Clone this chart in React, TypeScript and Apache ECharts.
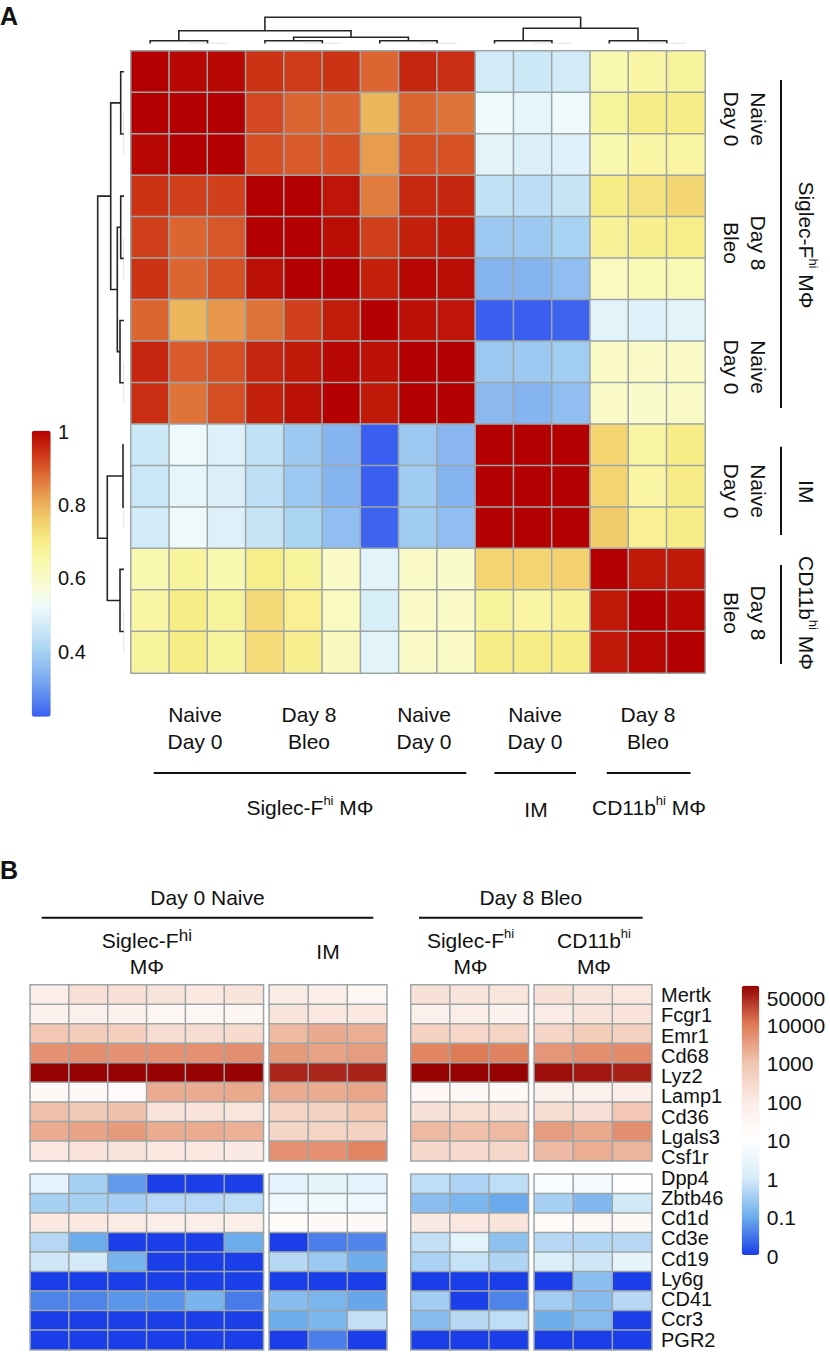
import React, { useEffect, useRef } from 'react';
import * as echarts from 'echarts';

const FONT = '"Liberation Sans", Arial, Helvetica, sans-serif';

// ---------------- Panel A data (Pearson correlation, 15 samples) ----------------
const samplesA = ['SF0-1', 'SF0-2', 'SF0-3', 'SF8-1', 'SF8-2', 'SF8-3', 'SF0-4', 'SF0-5', 'SF0-6', 'IM-1', 'IM-2', 'IM-3', 'CD8-1', 'CD8-2', 'CD8-3'];
const corrR01 = [1.0, 0.99, 0.99, 0.94, 0.93, 0.94, 0.885, 0.955, 0.945, 0.47, 0.46, 0.47, 0.635, 0.655, 0.665];
const corrR02 = [1.0, 1.0, 1.0, 0.915, 0.885, 0.885, 0.79, 0.885, 0.87, 0.52, 0.505, 0.52, 0.665, 0.7, 0.7];
const corrR03 = [0.99, 1.0, 1.0, 0.91, 0.895, 0.905, 0.825, 0.91, 0.905, 0.5, 0.485, 0.49, 0.635, 0.655, 0.66];
const corrR04 = [0.94, 0.925, 0.925, 1.0, 1.0, 0.975, 0.86, 0.95, 0.955, 0.44, 0.43, 0.45, 0.7, 0.72, 0.74];
const corrR05 = [0.925, 0.885, 0.9, 1.0, 1.0, 0.985, 0.925, 0.96, 0.97, 0.38, 0.38, 0.4, 0.675, 0.69, 0.695];
const corrR06 = [0.94, 0.885, 0.91, 0.98, 1.0, 1.0, 0.96, 0.99, 0.985, 0.34, 0.34, 0.36, 0.61, 0.63, 0.63];
const corrR07 = [0.885, 0.79, 0.83, 0.87, 0.925, 0.965, 1.0, 0.98, 0.975, 0.22, 0.22, 0.225, 0.5, 0.49, 0.5];
const corrR08 = [0.955, 0.895, 0.91, 0.955, 0.97, 0.99, 0.98, 1.0, 1.0, 0.38, 0.38, 0.39, 0.6, 0.595, 0.6];
const corrR09 = [0.945, 0.87, 0.91, 0.96, 0.98, 1.0, 0.97, 1.0, 1.0, 0.35, 0.34, 0.36, 0.595, 0.59, 0.6];
const corrR10 = [0.46, 0.52, 0.49, 0.44, 0.38, 0.34, 0.22, 0.38, 0.345, 1.0, 1.0, 1.0, 0.745, 0.66, 0.7];
const corrR11 = [0.455, 0.505, 0.485, 0.435, 0.38, 0.34, 0.22, 0.385, 0.34, 1.0, 1.0, 1.0, 0.745, 0.655, 0.7];
const corrR12 = [0.47, 0.52, 0.49, 0.45, 0.405, 0.36, 0.225, 0.385, 0.36, 1.0, 1.0, 1.0, 0.76, 0.68, 0.7];
const corrR13 = [0.635, 0.665, 0.635, 0.695, 0.665, 0.6, 0.5, 0.595, 0.59, 0.745, 0.745, 0.75, 1.0, 0.97, 0.97];
const corrR14 = [0.655, 0.7, 0.665, 0.735, 0.68, 0.61, 0.48, 0.595, 0.595, 0.665, 0.655, 0.675, 0.97, 1.0, 0.99];
const corrR15 = [0.665, 0.7, 0.665, 0.73, 0.685, 0.615, 0.5, 0.595, 0.6, 0.7, 0.7, 0.7, 0.97, 0.99, 1.0];
const corrMatrix = [corrR01, corrR02, corrR03, corrR04, corrR05, corrR06, corrR07, corrR08, corrR09, corrR10, corrR11, corrR12, corrR13, corrR14, corrR15];
const corrMin = 0.22;
const corrMax = 1.0;
const corrTicks = [1, 0.8, 0.6, 0.4];
const corrColors = ['#3A5FF0', '#5F8EF0', '#86B4F0', '#A8D2F2', '#CDE8F7', '#EEF9FC', '#FAFBD2', '#F9F8AE', '#F7EC86', '#F2CC6A', '#E8A050', '#DE6A35', '#CC3214', '#B40000'];

// dendrogram merge heights (leaf index, merge height)
type DNode = number | { l: DNode; r: DNode; h: number };
const mg = (l: DNode, r: DNode, h: number): DNode => ({ l, r, h });
const colTree = mg(
  mg(mg(0, mg(1, 2, 0.3), 2.8), mg(mg(3, mg(4, 5, 0.3), 2.8), mg(6, mg(7, 8, 0.3), 2.8), 6.2), 12.8),
  mg(mg(9, mg(10, 11, 0.3), 2.8), mg(12, mg(13, 14, 0.3), 2.8), 15.2),
  26.2
);
const rowTree = mg(
  mg(mg(0, mg(1, 2, 0.3), 3.3), mg(mg(3, mg(4, 5, 0.3), 3.3), mg(6, mg(7, 8, 0.3), 4), 6.7), 13.3),
  mg(mg(9, mg(10, 11, 0.3), 1), mg(12, mg(13, 14, 0.3), 4), 16.7),
  26.3
);

// ---------------- Panel B data (expression) ----------------
const genesTop = ['Mertk', 'Fcgr1', 'Emr1', 'Cd68', 'Lyz2', 'Lamp1', 'Cd36', 'Lgals3', 'Csf1r'];
const genesBottom = ['Dpp4', 'Zbtb46', 'Cd1d', 'Cd3e', 'Cd19', 'Ly6g', 'CD41', 'Ccr3', 'PGR2'];
const exprTicks = [50000, 10000, 1000, 100, 10, 1, 0.1, 0];
const exprColors = ['#1A3FE8', '#6EAEEC', '#D8ECF9', '#FFFFFF', '#FBEBE5', '#F1C4AF', '#DE7A56', '#950000'];

const d0SiglecTop = [
  [80, 190, 190, 150, 120, 150],
  [50, 55, 50, 28, 28, 32],
  [850, 620, 520, 230, 230, 260],
  [5000, 5200, 4800, 5000, 5000, 5200],
  [95000, 95000, 95000, 95000, 95000, 95000],
  [20, 20, 15, 2200, 2200, 2400],
  [1170, 740, 1070, 160, 160, 140],
  [2200, 2800, 3700, 2200, 2200, 1850],
  [130, 170, 150, 120, 120, 105],
];
const d0IMTop = [
  [100, 80, 28],
  [150, 130, 120],
  [1400, 2250, 2000],
  [3700, 2900, 3500],
  [50000, 48000, 52000],
  [2200, 2100, 2600],
  [390, 440, 940],
  [360, 390, 440],
  [5000, 5000, 7300],
];
const d8SiglecTop = [
  [180, 150, 140],
  [56, 80, 50],
  [440, 350, 390],
  [7100, 9400, 7600],
  [95000, 95000, 95000],
  [28, 25, 22],
  [180, 215, 180],
  [1400, 1130, 1400],
  [320, 275, 320],
];
const d8CD11bTop = [
  [180, 150, 130],
  [100, 150, 160],
  [360, 660, 470],
  [4200, 5400, 6000],
  [75000, 65000, 55000],
  [50, 56, 70],
  [230, 200, 830],
  [3500, 2400, 5400],
  [1380, 2000, 1650],
];
const d0SiglecBottom = [
  [2, 0.34, 0.066, 0, 0, 0],
  [0.35, 0.35, 0.34, 0.5, 0.5, 0.57],
  [120, 120, 100, 80, 75, 75],
  [0.48, 0.095, 0, 0, 0, 0.095],
  [0.8, 0.93, 0.125, 0, 0, 0],
  [0, 0, 0, 0, 0, 0],
  [0.042, 0.042, 0.061, 0.058, 0.125, 0.035],
  [0, 0, 0, 0, 0, 0],
  [0, 0, 0, 0, 0, 0],
];
const d0IMBottom = [
  [2, 2.3, 2],
  [4.1, 4.6, 4.1],
  [18, 20, 22],
  [0, 0.037, 0.044],
  [0.48, 0.28, 0.1],
  [0, 0, 0],
  [0.17, 0.13, 0.085],
  [0.095, 0.135, 0.65],
  [0, 0.037, 0],
];
const d8SiglecBottom = [
  [0.57, 0.4, 0.57],
  [0.18, 0.135, 0.09],
  [110, 130, 150],
  [0.65, 2, 0.2],
  [0.38, 0.68, 0.42],
  [0, 0, 0],
  [0.32, 0, 0.042],
  [0.17, 0.48, 0.57],
  [0, 0, 0],
];
const d8CD11bBottom = [
  [6.6, 5.2, 12],
  [0.35, 0.15, 0.88],
  [18, 24, 20],
  [0.48, 0.44, 0.48],
  [1.3, 0.84, 2.3],
  [0, 0.19, 0],
  [0.31, 0.17, 0.48],
  [0.1, 0.17, 0],
  [0, 0, 0],
];

const toLog = (v: number) => Math.log10(Math.max(v, 0.01));
const EXPR_MIN = -2;
const EXPR_MAX = 5;

// ---------------- layout ----------------
const A_GRID = { left: 131, top: 51, width: 574, height: 622 };
const A_LEG = { left: 31.7, top: 430.7, w: 19, h: 286 };
const B_LEG = { left: 741.7, top: 985.7, w: 17.6, h: 269.3 };
const B_TOP = { top: 985, height: 175.7 };
const B_BOT = { top: 1174.3, height: 175.5 };
const B_BLOCKS = [
  { left: 30.3, width: 233, top: d0SiglecTop, bottom: d0SiglecBottom },
  { left: 269.3, width: 117.4, top: d0IMTop, bottom: d0IMBottom },
  { left: 411, width: 117.3, top: d8SiglecTop, bottom: d8SiglecBottom },
  { left: 534.3, width: 117.4, top: d8CD11bTop, bottom: d8CD11bBottom },
];
const BORDER = '#9DA6A7';
const INK = '#111111';

function txt(x: number, y: number, text: string, o: any = {}) {
  return {
    type: 'text',
    x,
    y,
    rotation: o.rot || 0,
    silent: true,
    style: {
      text,
      fontSize: o.size || 21,
      fontFamily: FONT,
      fontWeight: o.weight || 'normal',
      fill: INK,
      align: o.align || 'center',
      verticalAlign: 'middle',
      textAlign: o.align || 'center',
      textVerticalAlign: 'middle',
      lineHeight: o.lh || 27,
      rich: o.rich,
    },
  };
}
function supRich(supSize: number, mainSize = 21) {
  return {
    m: { fontSize: mainSize, fontFamily: FONT, fill: INK, lineHeight: 26, verticalAlign: 'middle' },
    s: { fontSize: supSize, fontFamily: FONT, fill: INK, lineHeight: supSize, verticalAlign: 'top' },
  };
}
function line(x1: number, y1: number, x2: number, y2: number, w = 2) {
  return { type: 'line', silent: true, shape: { x1, y1, x2, y2 }, style: { stroke: INK, lineWidth: w } };
}

export default function App() {
  const ref = useRef<HTMLDivElement>(null);
  useEffect(() => {
    document.body.style.margin = '0';
    const chart = echarts.init(ref.current!, null, { renderer: 'svg' });

    const grids: any[] = [{ ...A_GRID }];
    const xAxes: any[] = [{ type: 'category', gridIndex: 0, data: samplesA, show: false }];
    const yAxes: any[] = [{ type: 'category', gridIndex: 0, data: samplesA, inverse: true, show: false }];
    const series: any[] = [
      {
        type: 'heatmap',
        xAxisIndex: 0,
        yAxisIndex: 0,
        data: corrMatrix.flatMap((row, r) => row.map((v, c) => [c, r, v])),
        itemStyle: { borderColor: BORDER, borderWidth: 1.5 },
        emphasis: { disabled: true },
      },
    ];
    const bSeriesIdx: number[] = [];
    [B_TOP, B_BOT].forEach((half, hi) => {
      B_BLOCKS.forEach((blk) => {
        const mat = hi === 0 ? blk.top : blk.bottom;
        const genes = hi === 0 ? genesTop : genesBottom;
        const gi = grids.length;
        grids.push({ left: blk.left, width: blk.width, top: half.top, height: half.height });
        xAxes.push({ type: 'category', gridIndex: gi, data: mat[0].map((_, i) => 'S' + (i + 1)), show: false });
        yAxes.push({ type: 'category', gridIndex: gi, data: genes, inverse: true, show: false });
        bSeriesIdx.push(series.length);
        series.push({
          type: 'heatmap',
          xAxisIndex: gi,
          yAxisIndex: gi,
          data: mat.flatMap((row, r) => row.map((v, c) => [c, r, toLog(v)])),
          itemStyle: { borderColor: BORDER, borderWidth: 1.5 },
          emphasis: { disabled: true },
        });
      });
    });
    // gene label axis
    const lg = grids.length;
    grids.push({ left: 651, width: 1, top: 985, height: 364.8 });
    xAxes.push({ type: 'value', gridIndex: lg, show: false });
    yAxes.push({
      type: 'category',
      gridIndex: lg,
      data: [...genesTop, ...genesBottom],
      inverse: true,
      position: 'right',
      axisLine: { show: false },
      axisTick: { show: false },
      splitLine: { show: false },
      axisLabel: { interval: 0, fontSize: 20, color: INK, fontFamily: FONT, margin: 9 },
    });

    chart.setOption({
      animation: false,
      grid: grids,
      xAxis: xAxes,
      yAxis: yAxes,
      visualMap: [
        {
          type: 'continuous',
          seriesIndex: 0,
          min: corrMin,
          max: corrMax,
          inRange: { color: corrColors },
          calculable: false,
          hoverLink: false,
          left: A_LEG.left,
          top: A_LEG.top,
          itemWidth: A_LEG.w,
          itemHeight: A_LEG.h,
          padding: 0,
          text: null,
        },
        {
          type: 'continuous',
          seriesIndex: bSeriesIdx,
          min: EXPR_MIN,
          max: EXPR_MAX,
          inRange: { color: exprColors },
          calculable: false,
          hoverLink: false,
          left: B_LEG.left,
          top: B_LEG.top,
          itemWidth: B_LEG.w,
          itemHeight: B_LEG.h,
          padding: 0,
          text: null,
        },
      ],
      series,
    });

    // ---------- graphics ----------
    const g: any[] = [];
    // dendrograms
    const colX = (i: number) => chart.convertToPixel({ gridIndex: 0 } as any, [i, 0])[0];
    const rowY = (i: number) => chart.convertToPixel({ gridIndex: 0 } as any, [0, i])[1];
    const colBase = A_GRID.top - 7.5;
    const rowBase = A_GRID.left - 7;
    const draw = (node: DNode, leaf: (i: number) => number, pt: (p: number, h: number) => number[]): { p: number; h: number } => {
      if (typeof node === 'number') return { p: leaf(node), h: 0 };
      const a = draw(node.l, leaf, pt);
      const b = draw(node.r, leaf, pt);
      const tiny = node.h < 1;
      g.push({
        type: 'polyline',
        silent: true,
        shape: { points: [pt(a.p, a.h), pt(a.p, node.h), pt(b.p, node.h), pt(b.p, b.h)] },
        style: { stroke: tiny ? '#E4E4E4' : '#262626', lineWidth: tiny ? 1 : 1.6, fill: null },
      });
      return { p: (a.p + b.p) / 2, h: node.h };
    };
    draw(colTree, colX, (p, h) => [p, colBase - h]);
    draw(rowTree, rowY, (p, h) => [rowBase - h, p]);

    // panel letters
    g.push(txt(0, 16, 'A', { size: 25, weight: 'bold', align: 'left' }));
    g.push(txt(0, 870, 'B', { size: 25, weight: 'bold', align: 'left' }));

    // panel A legend ticks
    corrTicks.forEach((v) => {
      const y = A_LEG.top + ((corrMax - v) / (corrMax - corrMin)) * A_LEG.h;
      g.push(txt(58, y + 1, String(v), { size: 20, align: 'left' }));
    });

    // panel A bottom labels
    const botX = [195, 309, 424, 535, 648];
    const botT = ['Naive\nDay 0', 'Day 8\nBleo', 'Naive\nDay 0', 'Naive\nDay 0', 'Day 8\nBleo'];
    botX.forEach((x, i) => g.push(txt(x, 727.5, botT[i])));
    g.push(line(153.7, 773, 466.3, 773), line(494.4, 773, 576, 773), line(606.8, 773, 690.5, 773));
    g.push(txt(310, 807, '{m|Siglec-F}{s|hi}{m| MΦ}', { rich: supRich(13) }));
    g.push(txt(536, 809, 'IM'));
    g.push(txt(649, 807, '{m|CD11b}{s|hi}{m| MΦ}', { rich: supRich(13) }));

    // panel A right labels (rotated)
    const R = -Math.PI / 2;
    const rightY = [119, 243, 367, 491, 613];
    rightY.forEach((y, i) => g.push(txt(744.5, y, botT[i], { rot: R })));
    g.push(line(781, 80, 781, 408), line(781, 446.7, 781, 535), line(781, 565, 781, 664));
    g.push(txt(806.5, 245, '{m|Siglec-F}{s|hi}{m| MΦ}', { rot: R, rich: supRich(13) }));
    g.push(txt(806.5, 491.7, 'IM', { rot: R }));
    g.push(txt(806.5, 613, '{m|CD11b}{s|hi}{m| MΦ}', { rot: R, rich: supRich(13) }));

    // panel B headers
    g.push(txt(207.5, 897, 'Day 0 Naive'), txt(530.8, 897, 'Day 8 Bleo'));
    g.push(line(41.7, 917.7, 373.3, 917.7), line(419, 917.7, 642.7, 917.7));
    g.push(txt(146.8, 940, '{m|Siglec-F}{s|hi}', { rich: supRich(17) }), txt(146.8, 966.7, 'MΦ'));
    g.push(txt(328, 951.7, 'IM'));
    g.push(txt(470.5, 940, '{m|Siglec-F}{s|hi}', { rich: supRich(13) }), txt(470.5, 966.7, 'MΦ'));
    g.push(txt(594, 940, '{m|CD11b}{s|hi}', { rich: supRich(13) }), txt(594, 966.7, 'MΦ'));

    // panel B legend ticks
    exprTicks.forEach((v) => {
      const y = B_LEG.top + ((EXPR_MAX - toLog(v)) / (EXPR_MAX - EXPR_MIN)) * B_LEG.h;
      g.push(txt(766.7, y + 1, String(v), { size: 21, align: 'left' }));
    });

    chart.setOption({ graphic: { elements: g } });
    return () => chart.dispose();
  }, []);
  return <div ref={ref} style={{ width: 830, height: 1352, position: 'absolute', left: 0, top: 0 }} />;
}
